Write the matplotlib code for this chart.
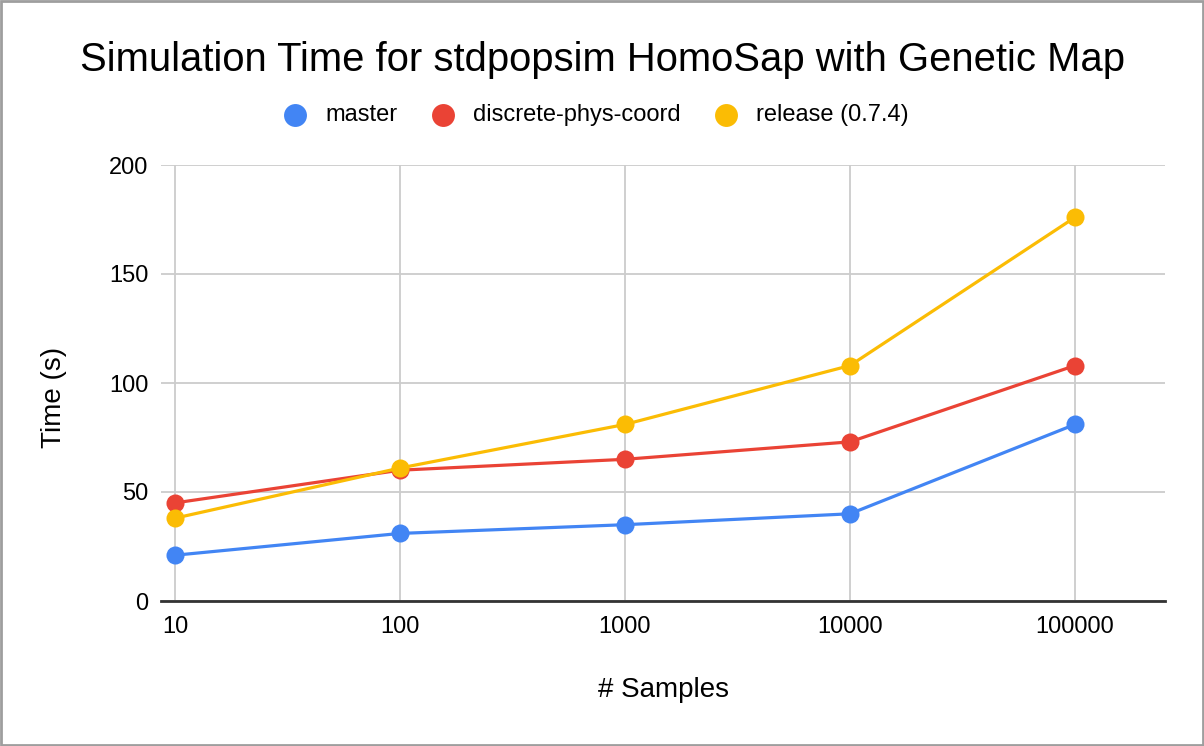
import matplotlib
matplotlib.use("Agg")
from matplotlib import pyplot as plt
from matplotlib.lines import Line2D
from matplotlib.patches import Rectangle

samples = [10, 100, 1000, 10000, 100000]
master = [21, 31, 35, 40, 81]
discrete = [45, 60, 65, 73, 108]
release = [38, 61, 81, 108, 176]

series_names = ["master", "discrete-phys-coord", "release (0.7.4)"]
colors = ["#4285F4", "#EA4335", "#FBBC04"]

plt.rcParams['font.family'] = ['Liberation Sans', 'DejaVu Sans']

fig = plt.figure(figsize=(12.04, 7.46), dpi=100)
W, H = 1204.0, 746.0
ax = fig.add_axes([161 / W, (H - 601) / H, (1165 - 161) / W, (601 - 165) / H])

for vals, c in zip([master, discrete, release], colors):
    ax.plot(samples, vals, color=c, lw=2.3, marker='o', ms=13,
            markeredgewidth=0, solid_capstyle='round', zorder=3)

ax.set_xscale('log')
ax.set_xlim(10 ** (1 - 14 / 225.0), 10 ** (5 + 90 / 225.0))
ax.set_ylim(0, 200)
ax.set_yticks([0, 50, 100, 150, 200])
ax.set_xticks(samples)
ax.set_xticklabels([str(s) for s in samples])
ax.xaxis.set_minor_locator(matplotlib.ticker.NullLocator())

ax.grid(True, color='#cccccc', lw=1.3, zorder=0)
for s in ['top', 'right', 'left']:
    ax.spines[s].set_visible(False)
ax.spines['bottom'].set_color('#333333')
ax.spines['bottom'].set_linewidth(2)
ax.spines['bottom'].set_zorder(4)
ax.tick_params(axis='both', length=0, labelsize=17, colors='#000000')
ax.tick_params(axis='y', pad=9)
ax.tick_params(axis='x', pad=11)
ax.set_axisbelow(True)

# axis titles, placed in axes fraction
ax.set_xlabel("# Samples", fontsize=20)
ax.xaxis.set_label_coords(0.5, (601 - 690) / 436.0)
ax.xaxis.label.set_va('center')
ax.set_ylabel("Time (s)", fontsize=20)
ax.yaxis.set_label_coords((54 - 161) / 1004.0, 0.468)
ax.yaxis.label.set_va('center')

fig.text(0.5, (H - 60) / H, "Simulation Time for stdpopsim HomoSap with Genetic Map",
         ha='center', va='center', fontsize=28.8)

# legend built by hand: marker, gap, label, gap, next marker ...
renderer = fig.canvas.get_renderer()
leg_y = (H - 115) / H
label_w = []
for name in series_names:
    t = fig.text(0, 0, name, fontsize=17)
    label_w.append(t.get_window_extent(renderer).width)
    t.remove()
marker_r = 11.5
to_text = 30.0
gap = 34.0
total = sum(marker_r + to_text + w for w in label_w) + gap * (len(series_names) - 1) + marker_r
x = (W - total) / 2.0 + marker_r
for name, c, w in zip(series_names, colors, label_w):
    fig.add_artist(Line2D([x / W], [leg_y], ls='none', marker='o', ms=16.5,
                          color=c, markeredgewidth=0, transform=fig.transFigure))
    fig.text((x + to_text) / W, leg_y, name, fontsize=17, ha='left', va='center')
    x += to_text + w + gap + marker_r

fig.patches.append(Rectangle((0.0008, 0.0013), 0.9984, 0.9974, transform=fig.transFigure,
                             fill=False, edgecolor='#9e9e9e', lw=2))

fig.savefig("out.png", dpi=100)
